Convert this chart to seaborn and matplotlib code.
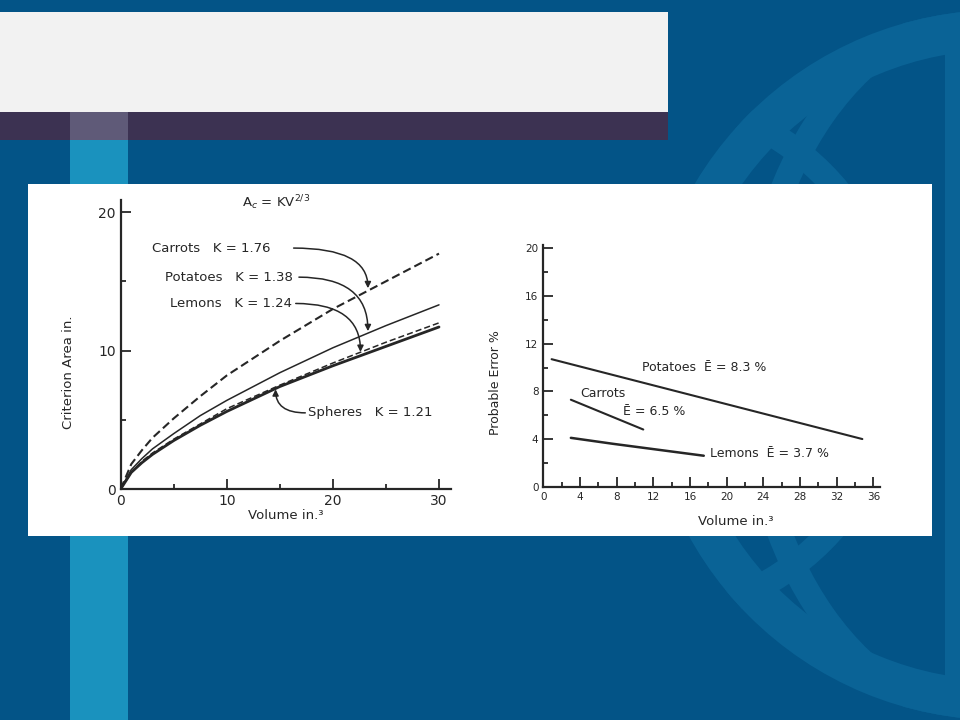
import numpy as np
import pandas as pd
import seaborn as sns
import matplotlib.pyplot as plt
from matplotlib.patches import Rectangle, Wedge, Ellipse, Circle

# left panel: criterion area vs volume
volume = [0, 1, 2, 3, 5, 7.5, 10, 15, 20, 25, 30]
carrots_area = [0, 1.8, 2.8, 3.7, 5.1, 6.7, 8.2, 10.7, 13.0, 15.0, 17.0]
potatoes_area = [0, 1.4, 2.2, 2.9, 4.0, 5.3, 6.4, 8.4, 10.2, 11.8, 13.3]
lemons_area = [0, 1.2, 2.0, 2.6, 3.6, 4.7, 5.8, 7.5, 9.1, 10.6, 12.0]
spheres_area = [0, 1.2, 1.9, 2.5, 3.5, 4.6, 5.6, 7.4, 8.9, 10.3, 11.7]

# right panel: probable error vs volume
potatoes_vol = [0.9, 34.8]
potatoes_err = [10.7, 4.0]
carrots_vol = [3.0, 10.9]
carrots_err = [7.3, 4.8]
lemons_vol = [3.0, 7.6, 17.5]
lemons_err = [4.1, 3.6, 2.6]

sns.set_style("ticks")
plt.rcParams['font.family'] = ['DejaVu Sans']
ink = '#262626'

fig = plt.figure(figsize=(9.6, 7.2), dpi=100, facecolor='#035487')

# slide background
bg = fig.add_axes([0, 0, 1, 1], zorder=0)
bg.set_xlim(0, 960)
bg.set_ylim(720, 0)
bg.axis('off')
light = '#0a6396'
clip = Circle((1000, 365), 355, transform=bg.transData)
bg.add_patch(Wedge((1000, 365), 355, 0, 360, width=40, color=light, lw=0))
front = Ellipse((1000, 365), 500, 710, fill=False, edgecolor=light, lw=18)
bg.add_patch(front)
front.set_clip_path(clip)
back = Circle((638, 357), 260, fill=False, edgecolor=light, lw=18)
bg.add_patch(back)
back.set_clip_path(clip)
bg.add_patch(Rectangle((945, 30), 15, 660, color=light, lw=0))
bg.add_patch(Rectangle((70, 112), 58, 608, color='#1a92be', lw=0))
bg.add_patch(Rectangle((0, 12), 668, 100, color='#f2f2f2', lw=0))
bg.add_patch(Rectangle((0, 112), 668, 28, color='#3c3252', lw=0))
bg.add_patch(Rectangle((70, 112), 58, 28, color='#5f5a78', lw=0))
bg.add_patch(Rectangle((28, 184), 904, 352, color='white', lw=0))


def style_axes(ax, fs):
    sns.despine(ax=ax)
    ax.set_facecolor('none')
    for s in ['left', 'bottom']:
        ax.spines[s].set_color(ink)
        ax.spines[s].set_linewidth(1.6)
    ax.tick_params(which='both', direction='in', color=ink, labelcolor=ink,
                   labelsize=fs, width=1.3)
    ax.tick_params(which='major', length=7)
    ax.tick_params(which='minor', length=3.5)


# ---- left chart ----
ax1 = fig.add_axes([0.1257, 0.3208, 0.34375, 0.4014], zorder=2)
sns.lineplot(x=volume, y=carrots_area, ax=ax1, color=ink, lw=1.5, linestyle=(0, (4, 2)))
sns.lineplot(x=volume, y=potatoes_area, ax=ax1, color=ink, lw=1.1)
sns.lineplot(x=volume, y=lemons_area, ax=ax1, color=ink, lw=1.1, linestyle=(0, (4, 2)))
sns.lineplot(x=volume, y=spheres_area, ax=ax1, color=ink, lw=2.0)
ax1.set_xlim(0, 31.1)
ax1.set_ylim(0, 20.87)
ax1.set_xticks([0, 10, 20, 30])
ax1.set_xticks([5, 15, 25], minor=True)
ax1.set_yticks([0, 10, 20])
ax1.set_yticks([5, 15], minor=True)
style_axes(ax1, 10)
ax1.set_xlabel('Volume in.³', fontsize=9.5, color=ink)
ax1.set_ylabel('Criterion Area in.', fontsize=9.5, color=ink)
ax1.xaxis.set_label_coords(0.5, -0.07)
ax1.yaxis.set_label_coords(-0.138, 0.405)
ax1.text(14.66, 20.7, r'A$_c$ = KV$^{2/3}$', fontsize=9.5, color=ink, ha='center', va='center')

arrow = dict(arrowstyle='-|>', color=ink, lw=1.1, mutation_scale=9,
             shrinkA=0, shrinkB=0)
bend = 'angle3,angleA=0,angleB=90'
ax1.text(2.95, 17.4, 'Carrots   K = 1.76', fontsize=9.5, color=ink, va='center')
ax1.annotate('', xy=(23.3, 14.5), xytext=(16.3, 17.4),
             arrowprops=dict(connectionstyle=bend, **arrow))
ax1.text(4.17, 15.3, 'Potatoes   K = 1.38', fontsize=9.5, color=ink, va='center')
ax1.annotate('', xy=(23.3, 11.4), xytext=(16.8, 15.3),
             arrowprops=dict(connectionstyle=bend, **arrow))
ax1.text(4.65, 13.4, 'Lemons   K = 1.24', fontsize=9.5, color=ink, va='center')
ax1.annotate('', xy=(22.6, 9.9), xytext=(16.5, 13.4),
             arrowprops=dict(connectionstyle=bend, **arrow))
ax1.text(17.7, 5.5, 'Spheres   K = 1.21', fontsize=9.5, color=ink, va='center')
ax1.annotate('', xy=(14.6, 7.2), xytext=(17.4, 5.5),
             arrowprops=dict(connectionstyle=bend, **arrow))

# ---- right chart ----
ax2 = fig.add_axes([0.566, 0.324, 0.3507, 0.3357], zorder=2)
sns.lineplot(x=potatoes_vol, y=potatoes_err, ax=ax2, color=ink, lw=1.5)
sns.lineplot(x=carrots_vol, y=carrots_err, ax=ax2, color=ink, lw=1.5)
sns.lineplot(x=lemons_vol, y=lemons_err, ax=ax2, color=ink, lw=1.8)
ax2.set_xlim(0, 36.73)
ax2.set_ylim(0, 20.28)
ax2.set_xticks(np.arange(0, 37, 4))
ax2.set_xticks(np.arange(2, 37, 4), minor=True)
ax2.set_yticks(np.arange(0, 21, 4))
ax2.set_yticks(np.arange(2, 21, 4), minor=True)
style_axes(ax2, 7.5)
ax2.set_xlabel('Volume in.³', fontsize=9.5, color=ink)
ax2.set_ylabel('Probable Error %', fontsize=9, color=ink)
ax2.xaxis.set_label_coords(0.57, -0.115)
ax2.yaxis.set_label_coords(-0.123, 0.43)
ax2.text(10.8, 10.0, 'Potatoes  Ē = 8.3 %', fontsize=9, color=ink, va='center')
ax2.text(4.0, 7.8, 'Carrots', fontsize=9, color=ink, va='center')
ax2.text(8.7, 6.3, 'Ē = 6.5 %', fontsize=9, color=ink, va='center')
ax2.text(18.2, 2.8, 'Lemons  Ē = 3.7 %', fontsize=9, color=ink, va='center')

fig.savefig('out.png', dpi=100, facecolor=fig.get_facecolor())
